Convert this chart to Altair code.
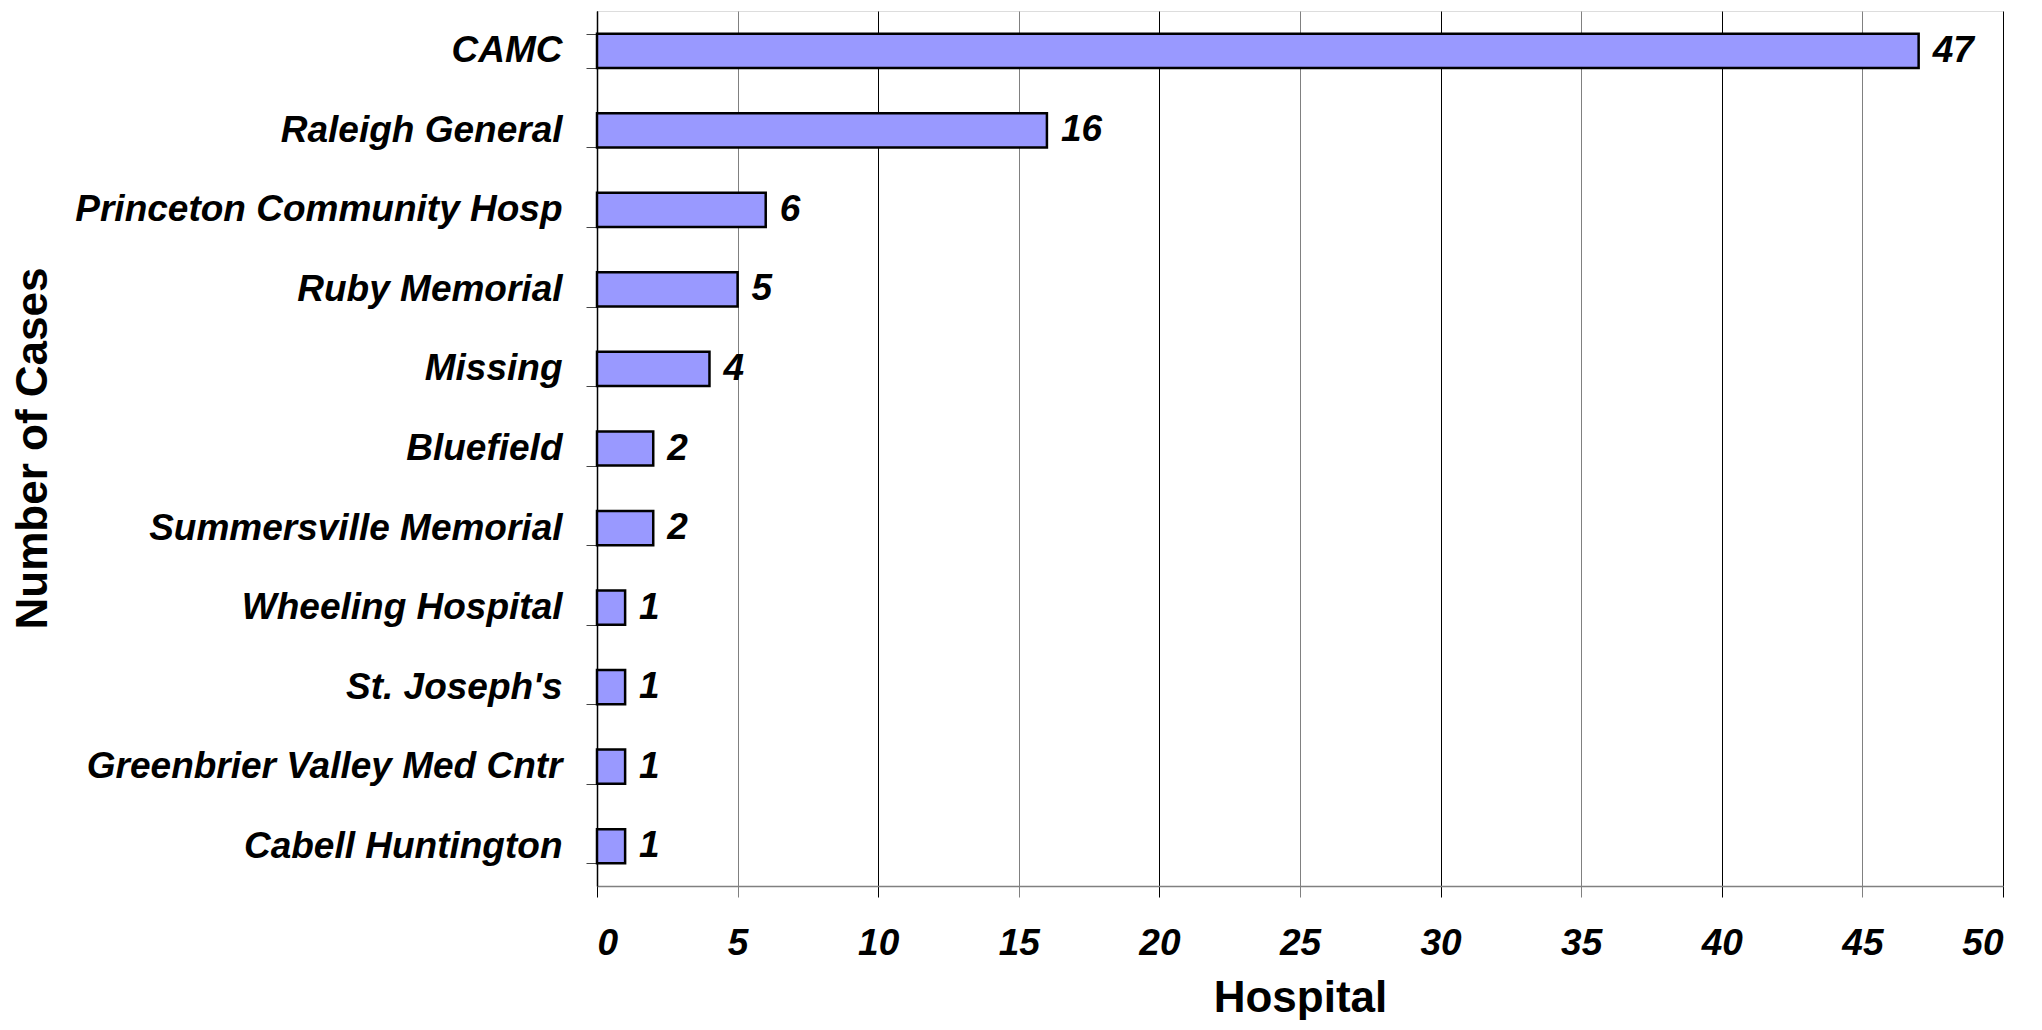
import altair as alt
import pandas as pd

hospitals = ["CAMC", "Raleigh General", "Princeton Community Hosp", "Ruby Memorial",
             "Missing", "Bluefield", "Summersville Memorial", "Wheeling Hospital",
             "St. Joseph's", "Greenbrier Valley Med Cntr", "Cabell Huntington"]
cases = [47, 16, 6, 5, 4, 2, 2, 1, 1, 1, 1]
x_ticks = [0, 5, 10, 15, 20, 25, 30, 35, 40, 45, 50]

df = pd.DataFrame({"hospital": hospitals, "cases": cases})

FONT = "Liberation Sans"

x_enc = alt.X(
    "cases:Q",
    scale=alt.Scale(domain=[0, 50], nice=False),
    axis=alt.Axis(
        values=x_ticks, title="Hospital", grid=True,
        gridColor={"condition": {"test": "datum.value % 10 === 0", "value": "#000000"}, "value": "#808080"},
        gridWidth=1,
        tickColor={"condition": {"test": "datum.value % 10 === 0", "value": "#000000"}, "value": "#808080"},
        tickSize=11, tickWidth=1,
        domainColor="#808080", domainWidth=1.5,
        labelFont=FONT, labelFontSize=37, labelFontWeight="bold", labelFontStyle="italic",
        labelColor="black", labelPadding=28,
        titleFont=FONT, titleFontSize=44, titleFontWeight="bold", titleColor="black",
        titleX=703, titleY=125, titleBaseline="alphabetic", titleAnchor="middle",
    ),
)

y_enc = alt.Y(
    "hospital:N", sort=hospitals,
    scale=alt.Scale(paddingInner=0.57, paddingOuter=0.285),
    axis=alt.Axis(
        title="Number of Cases", tickBand="extent", tickSize=11, tickColor="#444444",
        domainColor="#000000", domainWidth=1.5,
        labelFont=FONT, labelFontSize=37, labelFontWeight="bold", labelFontStyle="italic",
        labelColor="black", labelPadding=24, labelLimit=0,
        titleFont=FONT, titleFontSize=44, titleFontWeight="bold", titleColor="black",
        titleX=-564, titleY=437, titleBaseline="middle", titleAngle=-90, titleAnchor="middle",
    ),
)

bars = alt.Chart(df).mark_bar(color="#9999FF", stroke="black", strokeWidth=2.5).encode(
    x=x_enc, y=y_enc
)

text = alt.Chart(df).mark_text(
    align="left", baseline="middle", dx=14, font=FONT, fontSize=37,
    fontWeight="bold", fontStyle="italic", color="black"
).encode(
    x=alt.X("cases:Q"), y=alt.Y("hospital:N", sort=hospitals), text="cases:Q"
)

chart = (bars + text).properties(
    width=1406, height=875,
    autosize=alt.AutoSizeParams(type="none"),
    padding={"left": 589, "top": 3, "right": 31, "bottom": 134},
).configure_view(stroke=None).configure(background="white")

chart.save("out.html", embed_options={"renderer": "svg", "actions": False})
